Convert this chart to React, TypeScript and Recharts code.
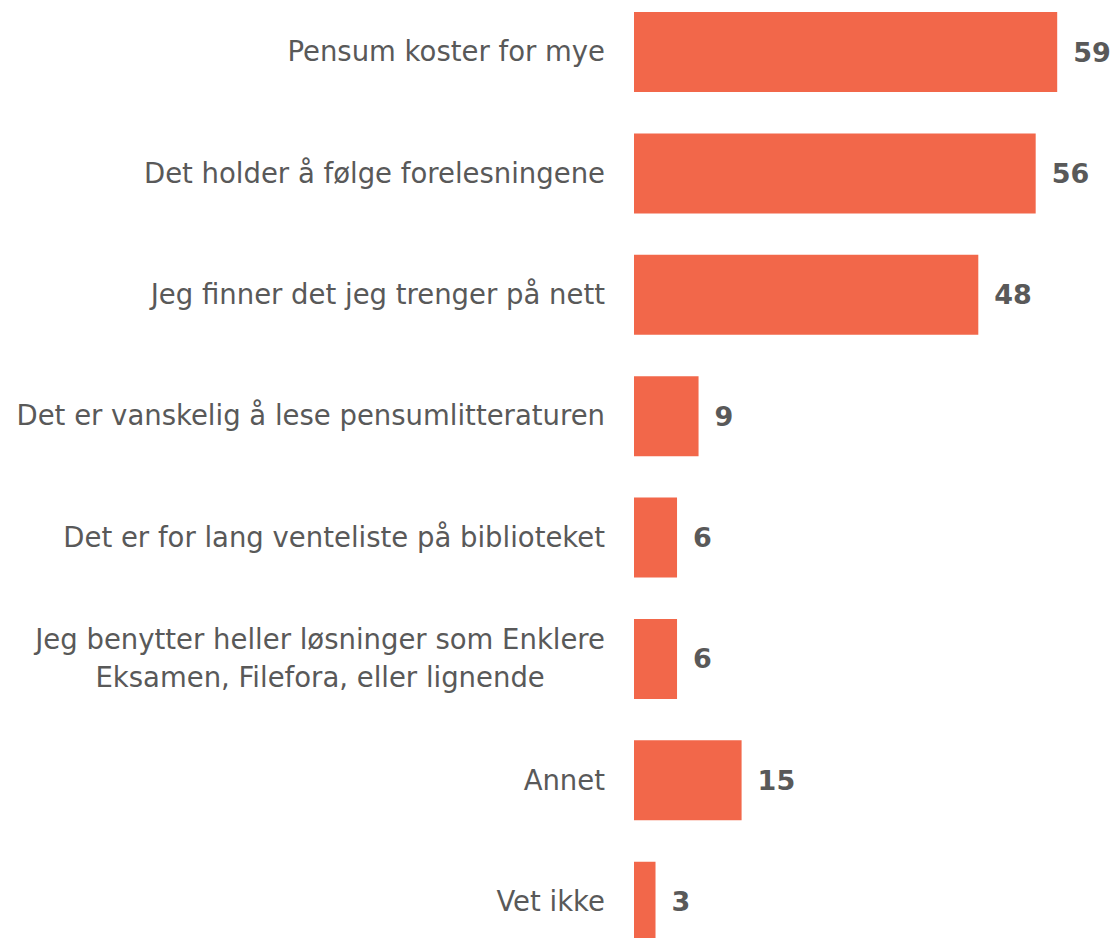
import { useLayoutEffect, useRef, useState } from 'react'
import { BarChart, Bar, XAxis, YAxis, LabelList } from 'recharts'

// answers (percent)
const categories = [
  'Pensum koster for mye',
  'Det holder å følge forelesningene',
  'Jeg finner det jeg trenger på nett',
  'Det er vanskelig å lese pensumlitteraturen',
  'Det er for lang venteliste på biblioteket',
  'Jeg benytter heller løsninger som Enklere\nEksamen, Filefora, eller lignende',
  'Annet',
  'Vet ikke',
]
const values = [59, 56, 48, 9, 6, 6, 15, 3]

const data = categories.map((name, i) => ({ name, value: values[i] }))

const FONT = '"DejaVu Sans", sans-serif'
const GREY = '#595959'

function CategoryTick(props: any) {
  const { x, y, payload } = props
  const lines: string[] = String(payload.value).split('\n')
  const firstRef = useRef<SVGTextElement>(null)
  const [w, setW] = useState(0)

  useLayoutEffect(() => {
    if (firstRef.current && lines.length > 1) setW(firstRef.current.getComputedTextLength())
  }, [payload.value])

  const right = x - 21
  const lh = 38
  const startY = y - ((lines.length - 1) * lh) / 2

  if (lines.length === 1) {
    return (
      <text x={right} y={y} dy="0.35em" textAnchor="end" fill={GREY} fontSize={27.5} fontFamily={FONT}>
        {lines[0]}
      </text>
    )
  }
  // wrapped label is centred under its first line
  const cx = right - w / 2
  return (
    <g>
      {lines.map((line, i) => (
        <text
          key={i}
          ref={i === 0 ? firstRef : undefined}
          x={i === 0 ? right : cx}
          y={startY + i * lh}
          dy="0.35em"
          textAnchor={i === 0 ? 'end' : 'middle'}
          fill={GREY}
          fontSize={27.5}
          fontFamily={FONT}
        >
          {line}
        </text>
      ))}
    </g>
  )
}

export default function App() {
  return (
    <div style={{ position: 'absolute', left: 0, top: 0, width: 1111, height: 938, overflow: 'hidden', background: '#fff' }}>
      <div style={{ position: 'absolute', left: 0, top: -9 }}>
        <BarChart
          width={1111}
          height={971}
          data={data}
          layout="vertical"
          margin={{ top: 0, right: 0, bottom: 0, left: 0 }}
        >
          <XAxis type="number" hide domain={[0, 66.5]} allowDataOverflow />
          <YAxis
            type="category"
            dataKey="name"
            width={634}
            axisLine={false}
            tickLine={false}
            interval={0}
            tick={<CategoryTick />}
          />
          <Bar dataKey="value" fill="#F2674A" barSize={80} isAnimationActive={false}>
            <LabelList
              dataKey="value"
              position="right"
              offset={16}
              fill={GREY}
              fontSize={27}
              fontWeight="bold"
              fontFamily={FONT}
            />
          </Bar>
        </BarChart>
      </div>
    </div>
  )
}
